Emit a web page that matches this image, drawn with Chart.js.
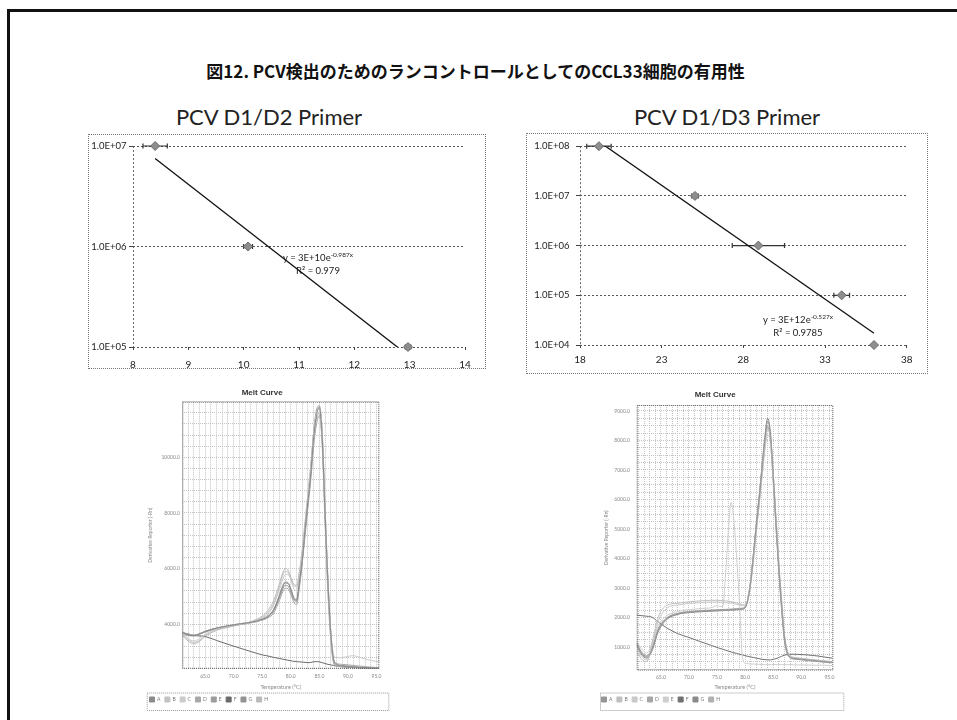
<!DOCTYPE html>
<html>
<head>
<meta charset="utf-8">
<script src="https://cdn.jsdelivr.net/npm/chart.js@4/dist/chart.umd.min.js"></script>
<style>
body { margin: 0; background: #fff; width: 957px; height: 720px; overflow: hidden; position: relative; font-family: Lato, sans-serif; }
#frame { position: absolute; left: 7px; top: 9px; width: 1000px; height: 800px; border-left: 3px solid #111; border-top: 3px solid #111; }
#figtitle { position: absolute; left: 0; width: 951px; top: 58px; line-height: 22px; text-align: center; font: bold 17px "Noto Sans CJK JP", sans-serif; color: #111; }
.primer { position: absolute; width: 300px; text-align: center; font: 22px Lato, sans-serif; line-height: 26px; color: #222; }
.box { position: absolute; border: 1px dotted #777; }
.box canvas { position: absolute; left: 0; top: 0; }
.eq { position: absolute; width: 120px; text-align: center; font: 9.5px Lato, sans-serif; line-height: 13px; color: #222; }
.eq sup { font-size: 6.5px; }
.melt { position: absolute; }
</style>
</head>
<body>
<div id="frame"></div>
<div id="figtitle">図12. PCV検出のためのランコントロールとしてのCCL33細胞の有用性</div>

<div class="primer" style="left:119px; top:104px;">PCV D1/D2 Primer</div>
<div class="primer" style="left:577px; top:104px;">PCV D1/D3 Primer</div>

<div class="box" style="left:88px; top:134px; width:396px; height:233px;"><canvas id="d1d2" width="396" height="233"></canvas></div>
<div class="box" style="left:526px; top:133px; width:400px; height:239px;"><canvas id="d1d3" width="400" height="239"></canvas></div>
<div class="eq" id="eq-d1d2" style="left:258px; top:248px;"></div>
<div class="eq" id="eq-d1d3" style="left:738px; top:310px;"></div>

<canvas class="melt" id="melt-d1d2" width="255" height="327" style="left:140px; top:385px;"></canvas>
<canvas class="melt" id="melt-d1d3" width="252" height="327" style="left:596px; top:385px;"></canvas>

<script>
// standard curves: Ct (mean) vs copy number
const d1d2Ct = [8.40, 10.08, 12.97];
const d1d2CtErr = [0.22, 0.08, 0.05];
const d1d2Copies = [1e7, 1e6, 1e5];
const d1d2Fit = [3e10, -0.987];   // y = a * e^(b x)
const d1d2R2 = 0.979;
const d1d2YTicks = [1e5, 1e6, 1e7];
const d1d2XTicks = [8, 9, 10, 11, 12, 13, 14];

const d1d3Ct = [19.16, 25.04, 28.92, 34.02, 36.0];
const d1d3CtErr = [0.75, 0.2, 1.6, 0.48, 0];
const d1d3Copies = [1e8, 1e7, 1e6, 1e5, 1e4];
const d1d3Fit = [3e12, -0.527];
const d1d3R2 = 0.9785;
const d1d3YTicks = [1e4, 1e5, 1e6, 1e7, 1e8];
const d1d3XTicks = [18, 23, 28, 33, 38];

// melt curves, wells A-H
const meltLabels = ['A', 'B', 'C', 'D', 'E', 'F', 'G', 'H'];

const meltTempL = [61, 62, 63, 64, 65, 67, 69, 71, 73, 75, 76, 77, 78, 78.5, 79, 79.5, 80, 80.5, 81, 81.5,
  82, 82.5, 83, 83.5, 84, 84.5, 85, 85.5, 86, 86.5, 87, 87.5, 88, 89, 90, 91, 92, 93, 94, 95.5];
const meltL_A = [3700, 3620, 3590, 3650, 3740, 3860, 3940, 4010, 4070, 4180, 4280, 4500, 5000, 5300, 5480, 5470, 5250, 4950, 4850, 5500,
  6300, 7400, 8400, 9400, 10700, 11500, 11800, 10700, 8000, 5500, 3700, 2700, 2550, 2500, 2480, 2460, 2450, 2440, 2430, 2420];
const meltL_B = [3650, 3450, 3350, 3420, 3600, 3800, 3900, 3990, 4080, 4250, 4420, 4750, 5350, 5700, 5900, 5880, 5650, 5400, 5350, 5800,
  6500, 7500, 8500, 9500, 10600, 11300, 11500, 10500, 7800, 5300, 3500, 2650, 2520, 2480, 2470, 2460, 2450, 2440, 2430, 2420];
const meltL_C = [3750, 3500, 3400, 3480, 3650, 3820, 3920, 4000, 4060, 4220, 4380, 4680, 5250, 5550, 5780, 5800, 5600, 5300, 5200, 5700,
  6500, 7600, 8700, 9700, 10900, 11600, 11800, 11000, 8300, 5700, 3800, 2900, 2800, 2800, 2850, 2870, 2820, 2750, 2700, 2650];
const meltL_D = [3720, 3650, 3620, 3660, 3740, 3850, 3930, 4000, 4060, 4150, 4230, 4400, 4850, 5120, 5300, 5280, 5080, 4800, 4700, 5300,
  6200, 7300, 8400, 9500, 10800, 11600, 11750, 10800, 8100, 5600, 3700, 2750, 2600, 2560, 2540, 2520, 2500, 2480, 2460, 2440];
const meltL_E = [3680, 3600, 3580, 3640, 3720, 3840, 3920, 3990, 4050, 4160, 4260, 4480, 4950, 5230, 5400, 5380, 5150, 4880, 4800, 5400,
  6200, 7200, 8200, 9200, 10400, 11200, 11500, 10600, 7900, 5400, 3600, 2650, 2500, 2470, 2450, 2440, 2430, 2420, 2420, 2410];
const meltL_F = [3700, 3650, 3600, 3580, 3560, 3420, 3280, 3150, 3020, 2900, 2860, 2810, 2770, 2750, 2730, 2710, 2690, 2670, 2660, 2650,
  2640, 2630, 2620, 2630, 2650, 2660, 2650, 2620, 2590, 2560, 2540, 2520, 2500, 2480, 2460, 2450, 2440, 2430, 2420, 2410];
const meltL_G = [3710, 3640, 3600, 3660, 3750, 3870, 3950, 4020, 4080, 4200, 4310, 4540, 5050, 5350, 5520, 5500, 5280, 4980, 4880, 5550,
  6400, 7500, 8500, 9600, 10900, 11700, 11850, 10900, 8200, 5600, 3750, 2750, 2580, 2520, 2500, 2480, 2460, 2450, 2440, 2430];
const meltL_H = [3600, 3400, 3300, 3380, 3560, 3780, 3890, 3980, 4090, 4300, 4500, 4850, 5450, 5800, 6000, 5950, 5700, 5450, 5400, 5900,
  6700, 7700, 8700, 9700, 10800, 11400, 11600, 10400, 7600, 5100, 3400, 2600, 2500, 2470, 2460, 2450, 2440, 2430, 2420, 2410];

const meltTempR = [60.7, 61.5, 62.5, 63.5, 64.5, 66, 68, 70, 72, 74, 75, 76, 76.5, 77, 77.5, 78, 78.5, 79, 79.5, 80, 80.5,
  81, 81.5, 82, 82.5, 83, 83.5, 84, 84.5, 85, 85.5, 86, 86.5, 87, 87.5, 88, 89, 90, 91, 92, 93, 94, 95.5];
const meltR_A = [1100, 800, 650, 950, 1550, 1950, 2120, 2180, 2210, 2230, 2240, 2250, 2250, 2260, 2260, 2270, 2270, 2280, 2290, 2330, 2600,
  3200, 4100, 5100, 6000, 7000, 8000, 8650, 8200, 6800, 5200, 3700, 2400, 1300, 800, 650, 600, 580, 560, 540, 520, 500, 480];
const meltR_B = [900, 600, 500, 1200, 2000, 2400, 2480, 2530, 2560, 2580, 2580, 2570, 2560, 2550, 2530, 2510, 2490, 2460, 2430, 2420, 2650,
  3250, 4100, 5000, 5900, 6900, 7800, 8400, 8100, 6900, 5400, 3900, 2600, 1450, 900, 700, 640, 610, 590, 570, 550, 530, 500];
const meltR_C = [1000, 700, 560, 1100, 1850, 2300, 2420, 2470, 2500, 2520, 2520, 2510, 2500, 2490, 2480, 2460, 2440, 2420, 2400, 2400, 2600,
  3150, 3950, 4900, 5800, 6700, 7600, 8200, 7900, 6700, 5300, 3800, 2550, 1400, 880, 690, 630, 600, 580, 560, 540, 520, 500];
const meltR_D = [1150, 850, 700, 1000, 1600, 1980, 2140, 2190, 2220, 2240, 2250, 2260, 2260, 2270, 2270, 2280, 2280, 2290, 2300, 2350, 2650,
  3300, 4200, 5200, 6100, 7100, 8000, 8500, 8050, 6700, 5100, 3600, 2300, 1250, 780, 640, 590, 570, 550, 530, 510, 490, 470];
const meltR_E = [1200, 950, 800, 1150, 1700, 2050, 2200, 2260, 2300, 2330, 2400, 2350, 3400, 4900, 5900, 5300, 4000, 2500, 700, 450, 430,
  420, 420, 410, 410, 400, 400, 400, 400, 400, 400, 400, 400, 400, 400, 400, 390, 390, 390, 380, 380, 380, 370];
const meltR_F = [2080, 2060, 2040, 2000, 1850, 1650, 1450, 1320, 1180, 1050, 980, 920, 890, 860, 830, 800, 780, 750, 730, 700, 680,
  660, 640, 620, 600, 580, 570, 560, 560, 580, 600, 640, 680, 720, 740, 750, 750, 740, 730, 710, 690, 660, 620];
const meltR_G = [1050, 750, 620, 900, 1500, 1920, 2100, 2160, 2190, 2210, 2220, 2230, 2240, 2240, 2250, 2250, 2260, 2260, 2280, 2320, 2620,
  3250, 4200, 5200, 6100, 7100, 8100, 8750, 8300, 6900, 5300, 3750, 2450, 1350, 820, 660, 610, 590, 570, 550, 530, 510, 490];
const meltR_H = [1120, 820, 680, 980, 1580, 1960, 2130, 2200, 2230, 2250, 2260, 2270, 2270, 2280, 2280, 2290, 2300, 2300, 2320, 2360, 2580,
  3150, 4000, 4950, 5850, 6850, 7850, 8450, 8000, 6600, 5000, 3550, 2250, 1200, 760, 630, 580, 560, 540, 520, 500, 480, 460];

const meltColorsL = ['#8a8a8a', '#c2c2c2', '#cbcbcb', '#a8a8a8', '#9c9c9c', '#6a6a6a', '#939393', '#bababa'];
const meltColorsR = ['#959595', '#c0c0c0', '#c9c9c9', '#a6a6a6', '#cecece', '#707070', '#8a8a8a', '#b0b0b0'];

Chart.defaults.font.family = 'Lato, sans-serif';

function sciLabel(v) {
  const e = Math.round(Math.log10(v));
  return '1.0E+' + String(e).padStart(2, '0');
}

// horizontal Ct error bars, drawn under the markers
const errorBars = {
  id: 'errorBars',
  beforeDatasetsDraw(chart, args, opts) {
    const {ctx, scales: {x, y}} = chart;
    const pts = chart.data.datasets[0].data;
    ctx.save();
    ctx.strokeStyle = '#333';
    ctx.lineWidth = 1.2;
    pts.forEach((p, i) => {
      const e = opts.err[i];
      if (!e) return;
      const x1 = x.getPixelForValue(p.x - e), x2 = x.getPixelForValue(p.x + e);
      const py = y.getPixelForValue(p.y);
      ctx.beginPath();
      ctx.moveTo(x1, py); ctx.lineTo(x2, py);
      ctx.moveTo(x1, py - 2.5); ctx.lineTo(x1, py + 2.5);
      ctx.moveTo(x2, py - 2.5); ctx.lineTo(x2, py + 2.5);
      ctx.stroke();
    });
    ctx.restore();
  }
};

function primerChart(id, ct, err, copies, fit, yTicks, xTicks, lay) {
  const [a, b] = fit;
  const first = ct[0], last = ct[ct.length - 1];
  return new Chart(document.getElementById(id), {
    type: 'scatter',
    data: {
      datasets: [
        {
          data: ct.map((c, i) => ({x: c, y: copies[i]})),
          pointStyle: 'rectRot', pointRadius: 4.5,
          backgroundColor: '#8e8e8e', borderColor: '#6a6a6a', borderWidth: 1,
          clip: false, order: 1
        },
        {
          type: 'line',
          data: [{x: first, y: a * Math.exp(b * first)}, {x: last, y: a * Math.exp(b * last)}],
          borderColor: '#111', borderWidth: 1.3, pointRadius: 0, order: 2
        }
      ]
    },
    options: {
      responsive: false,
      animation: false,
      layout: {padding: {top: lay.top, right: lay.right, left: 0, bottom: 0}},
      plugins: {legend: {display: false}, tooltip: {enabled: false}, errorBars: {err: err}},
      scales: {
        x: {
          type: 'linear', min: xTicks[0], max: xTicks[xTicks.length - 1],
          afterBuildTicks: ax => { ax.ticks = xTicks.map(v => ({value: v})); },
          ticks: {padding: lay.xPad, font: {size: 10}, color: '#222', maxRotation: 0},
          grid: {color: c => c.index === 0 ? '#666' : 'rgba(0,0,0,0)', tickColor: '#444', tickLength: 3},
          border: {display: false, dash: [2, 2]},
          afterFit: s => { s.height = lay.xHeight; }
        },
        y: {
          type: 'logarithmic', min: yTicks[0], max: yTicks[yTicks.length - 1],
          afterBuildTicks: ax => { ax.ticks = yTicks.map(v => ({value: v})); },
          ticks: {callback: sciLabel, padding: lay.yPad, font: {size: 9.5}, color: '#222'},
          grid: {color: '#555', tickColor: '#444', tickLength: 4},
          border: {display: false, dash: [2, 2]},
          afterFit: s => { s.width = lay.yWidth; }
        }
      }
    },
    plugins: [errorBars]
  });
}

function eqHtml(fit, r2) {
  const a = fit[0].toExponential(0).toUpperCase();
  return 'y = ' + a + 'e<sup>' + fit[1] + 'x</sup><br>R² = ' + r2;
}

// dotted frame around the plot area and the legend strip
const meltFrame = {
  id: 'meltFrame',
  afterDraw(chart, args, opts) {
    const {ctx, chartArea: a, legend} = chart;
    ctx.save();
    ctx.lineWidth = 1;
    ctx.setLineDash([1, 1]);
    ctx.strokeStyle = '#555';
    ctx.strokeRect(a.left + 0.5, a.top + 0.5, a.width - 1, a.height - 1);
    ctx.strokeStyle = '#999';
    ctx.strokeRect(opts.left + 0.5, legend.top + 0.5, opts.right - opts.left, legend.height - 2);
    ctx.restore();
  }
};

// evenly spaced grid ticks between the axis limits
function gridTicks(min, max, step) {
  const t = [];
  for (let v = Math.ceil(min / step) * step; v <= max + 1e-9; v += step) t.push({value: v});
  return t;
}

function meltChart(id, temps, series, colors, cfg) {
  return new Chart(document.getElementById(id), {
    type: 'line',
    data: {
      datasets: series.map((s, i) => ({
        label: meltLabels[i],
        data: temps.map((t, j) => ({x: t, y: s[j]})),
        borderColor: colors[i], backgroundColor: colors[i],
        borderWidth: 1, pointRadius: 0, cubicInterpolationMode: 'monotone'
      }))
    },
    options: {
      responsive: false,
      animation: false,
      layout: {padding: {left: cfg.padLeft, right: cfg.padRight, top: 0, bottom: 0}},
      plugins: {
        title: {
          display: true, text: 'Melt Curve', color: '#333',
          font: {family: '"Liberation Sans", Arial, sans-serif', size: 8, weight: 'bold'},
          padding: cfg.titlePad
        },
        legend: {
          position: 'bottom', align: 'start',
          labels: {boxWidth: 5, boxHeight: 5, padding: 4.5, font: {size: 5}, color: '#777'}
        },
        tooltip: {enabled: false},
        meltFrame: cfg.legendFrame
      },
      scales: {
        x: {
          type: 'linear', min: cfg.xMin, max: cfg.xMax,
          afterBuildTicks: ax => { ax.ticks = gridTicks(cfg.xMin, cfg.xMax, 1); },
          ticks: {
            autoSkip: false, maxRotation: 0, padding: cfg.xTickPad,
            callback: v => v % 5 === 0 ? v.toFixed(1) : '',
            font: {size: 5}, color: '#888'
          },
          grid: {color: '#c4c4c4', drawTicks: false},
          border: {display: false, dash: [1, 1]},
          title: {display: true, text: 'Temperature (°C)', font: {size: 5.5}, color: '#888', padding: {top: 0, bottom: 2.3}},
          afterFit: s => { s.height = cfg.xHeight; }
        },
        y: {
          min: cfg.yMin, max: cfg.yMax,
          afterBuildTicks: ax => { ax.ticks = gridTicks(cfg.yMin, cfg.yMax, cfg.yMinor); },
          ticks: {
            autoSkip: false, padding: cfg.yTickPad,
            callback: v => v % cfg.yMajor === 0 && v < cfg.yMax ? v.toFixed(1) : '',
            font: {size: 5}, color: '#888'
          },
          grid: {color: '#c4c4c4', drawTicks: false},
          border: {display: false, dash: [1, 1]},
          title: {display: true, text: 'Derivative Reporter (-Rn)', font: {size: 5}, color: '#888', padding: {top: cfg.yTitlePad, bottom: 0}},
          afterFit: s => { s.width = cfg.yWidth; }
        }
      }
    },
    plugins: [meltFrame]
  });
}

primerChart('d1d2', d1d2Ct, d1d2CtErr, d1d2Copies, d1d2Fit, d1d2YTicks, d1d2XTicks,
  {top: 11, right: 20, xHeight: 21, yWidth: 44, xPad: 9, yPad: 2.5});
primerChart('d1d3', d1d3Ct, d1d3CtErr, d1d3Copies, d1d3Fit, d1d3YTicks, d1d3XTicks,
  {top: 12, right: 20.3, xHeight: 28, yWidth: 53, xPad: 6, yPad: 6.5});
document.getElementById('eq-d1d2').innerHTML = eqHtml(d1d2Fit, d1d2R2);
document.getElementById('eq-d1d3').innerHTML = eqHtml(d1d3Fit, d1d3R2);

meltChart('melt-d1d2', meltTempL,
  [meltL_A, meltL_B, meltL_C, meltL_D, meltL_E, meltL_F, meltL_G, meltL_H], meltColorsL,
  {xMin: 61, xMax: 95.5, yMin: 2400, yMax: 12000, yMinor: 400, yMajor: 2000,
   padLeft: 5, padRight: 15.7, yWidth: 37.3, xHeight: 23.7, xTickPad: 5, yTickPad: 2.3, yTitlePad: 2,
   titlePad: {top: 2.9, bottom: 4.2}, legendFrame: {left: 6.7, right: 248.3}});
meltChart('melt-d1d3', meltTempR,
  [meltR_A, meltR_B, meltR_C, meltR_D, meltR_E, meltR_F, meltR_G, meltR_H], meltColorsR,
  {xMin: 60.7, xMax: 95.7, yMin: 200, yMax: 9200, yMinor: 250, yMajor: 1000,
   padLeft: 1, padRight: 14.7, yWidth: 39.7, xHeight: 22, xTickPad: 3.7, yTickPad: 6.7, yTitlePad: 6.7,
   titlePad: {top: 5.2, bottom: 5.2}, legendFrame: {left: 4, right: 247.3}});
</script>
</body>
</html>
